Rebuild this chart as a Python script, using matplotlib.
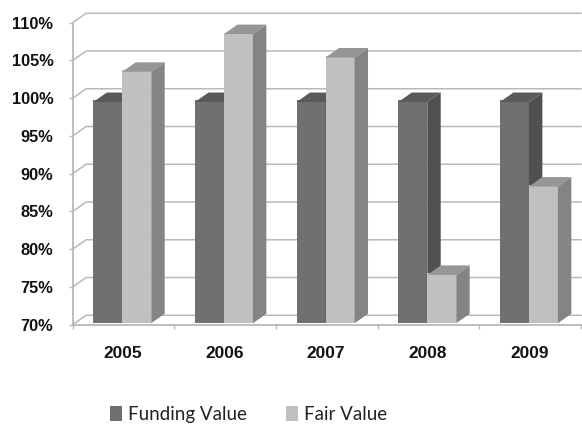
import matplotlib
matplotlib.use('Agg')
import matplotlib.pyplot as plt
from matplotlib.patches import Polygon, Patch

years = ['2005', '2006', '2007', '2008', '2009']
funding_value = [99.5, 99.5, 99.5, 99.5, 99.5]
fair_value = [103.5, 108.5, 105.4, 76.6, 88.3]
y_ticks = [70, 75, 80, 85, 90, 95, 100, 105, 110]

GRID = '#b9b9b9'
DX = 0.132   # depth of the fake 3d, in category units
DY = 1.25    # depth of the fake 3d, in percent
BAR_W = 0.285

fig = plt.figure(figsize=(5.82, 4.24), dpi=100)
ax = fig.add_axes([72.7 / 582, 1 - 324.7 / 424, (581 - 72.7) / 582, (324.7 - 22.7) / 424])
ax.set_xlim(0, 5)
ax.set_ylim(70, 110)
for s in ax.spines.values():
    s.set_visible(False)

# back wall grid and the slanted lines on the side wall
for t in y_ticks:
    ax.plot([DX * 0.1, DX, 5], [t + DY * 0.1, t + DY, t + DY], color=GRID, lw=1.1, clip_on=False, zorder=1)
ax.plot([0, 0], [70, 110], color=GRID, lw=1.3, zorder=1, clip_on=False)
ax.plot([0, 5], [70, 70], color=GRID, lw=1.3, zorder=1, clip_on=False)


def draw_bar(x, val, front, top, side, z):
    ax.bar(x, val - 70, BAR_W, bottom=70.2, align='edge', color=front, zorder=z)
    x1 = x + BAR_W
    ax.add_patch(Polygon([(x, val), (x + DX, val + DY), (x1 + DX, val + DY), (x1, val)],
                         facecolor=top, edgecolor='none', zorder=z))
    ax.add_patch(Polygon([(x1, 70.2), (x1 + DX, 70.2 + DY), (x1 + DX, val + DY), (x1, val)],
                         facecolor=side, edgecolor='none', zorder=z))


for i in range(len(years)):
    mid = i + 0.488
    draw_bar(mid - BAR_W, funding_value[i], '#707070', '#5a5a5a', '#505050', 3)
    draw_bar(mid, fair_value[i], '#c0c0c0', '#969696', '#848484', 4)

# ticks
ax.set_xticks([i + 0.49 for i in range(5)])
ax.set_xticklabels(years, fontfamily='Liberation Sans', fontweight='bold', fontsize=12.4, color='#111111')
ax.tick_params(axis='x', which='major', length=0, pad=15)
ax.set_xticks(range(6), minor=True)
ax.tick_params(axis='x', which='minor', length=3, width=1, color=GRID)
ax.set_yticks(y_ticks)
ax.set_yticklabels([f'{t}%' for t in y_ticks], fontfamily='Liberation Sans', fontweight='bold',
                   fontsize=11.8, color='#111111')
ax.tick_params(axis='y', length=3, width=1, color=GRID, pad=11)

handles = [Patch(facecolor='#707070', label='Funding Value'), Patch(facecolor='#c0c0c0', label='Fair Value')]
fig.legend(handles=handles, loc='lower left', bbox_to_anchor=(109.5 / 582, 0), ncol=2, frameon=False,
           prop={'family': 'Lato', 'size': 13.5}, handlelength=0.64, handleheight=0.9, handletextpad=0.3,
           columnspacing=2.1, borderpad=0.05, borderaxespad=0, labelcolor='#222222')

plt.savefig('out.png', dpi=100)
